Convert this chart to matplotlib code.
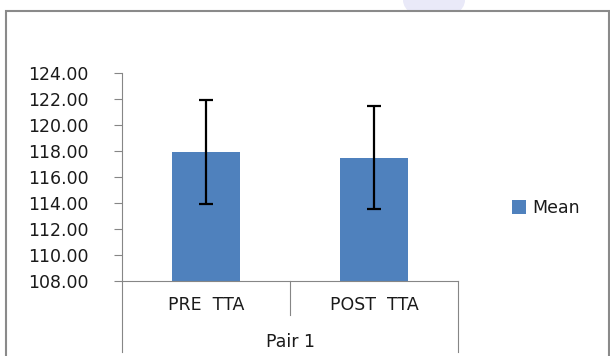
import matplotlib.pyplot as plt
import matplotlib.transforms as mtransforms
from matplotlib.patches import Rectangle, Ellipse

# data
categories = ['PRE  TTA', 'POST  TTA']
group_label = 'Pair 1'
means = [117.9, 117.5]
errors = [4.0, 3.95]
yticks = [108, 110, 112, 114, 116, 118, 120, 122, 124]

plt.rcParams['font.family'] = ['DejaVu Sans']
FS = 12.5
TXT = '#1a1a1a'

W, H = 610, 356
fig = plt.figure(figsize=(W / 100, H / 100), dpi=100)

# faint watermark blob at the top right
fig.patches.append(Ellipse((434 / W, 1.0), 62 / W, 40 / H, transform=fig.transFigure,
                           facecolor='#e9e9f8', edgecolor='none', zorder=0))
# white chart area with grey frame
fig.patches.append(Rectangle((6 / W, -0.1), 603 / W, 1.1 - 11 / H, transform=fig.transFigure,
                             facecolor='white', edgecolor='#8a8a8a', lw=1.5, zorder=1))

ax = fig.add_axes([122 / W, 75 / H, 336 / W, 208 / H])
ax.set_zorder(3)
ax.patch.set_alpha(0)

x = range(len(categories))
ax.bar(x, means, width=0.4, color='#4f81bd', label='Mean', zorder=2)
ax.errorbar(x, means, yerr=errors, fmt='none', ecolor='black', elinewidth=1.6,
            capsize=4.8, capthick=1.6, zorder=3)

ax.set_xlim(-0.5, 1.5)
ax.set_ylim(108, 124)
ax.set_yticks(yticks)
ax.set_yticklabels(['%.2f' % v for v in yticks], fontsize=FS, color=TXT)
ax.tick_params(axis='y', direction='out', length=6, width=0.8, color='#868686', pad=18)
ax.set_xticks([])
for s in ['top', 'right']:
    ax.spines[s].set_visible(False)
ax.spines['left'].set_color('#868686')
ax.spines['bottom'].set_color('#868686')

# multi-level category axis
trans = mtransforms.blended_transform_factory(ax.transData, ax.transAxes)
for xv, y0 in [(-0.5, -0.341), (0.5, -0.163), (1.5, -0.341)]:
    ax.plot([xv, xv], [0, y0], color='#868686', lw=0.8, transform=trans, clip_on=False)
for i, c in enumerate(categories):
    ax.text(i, -0.115, c, transform=trans, ha='center', va='center',
            fontsize=FS, color=TXT)
ax.text(0.5, -0.293, group_label, transform=trans, ha='center', va='center',
        fontsize=FS, color=TXT)

leg = fig.legend(loc='center left', bbox_to_anchor=(496 / W, 1 - 208 / H), frameon=False,
                 fontsize=FS, handlelength=0.8, handleheight=0.8, handletextpad=0.4,
                 labelcolor=TXT)
leg.set_zorder(4)

fig.savefig('out.png', dpi=100)
